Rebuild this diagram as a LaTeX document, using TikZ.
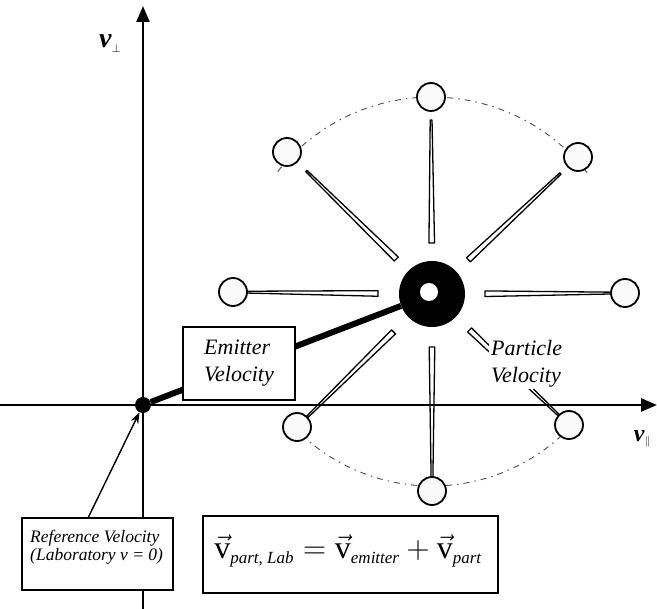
\RequirePackage{fix-cm}
\documentclass[tikz,border=0pt]{standalone}
\usepackage{amsmath}
\usepackage{fontspec}
\setmainfont{Liberation Serif}
\usetikzlibrary{arrows.meta,calc}
\tikzset{
  axisline/.style={line width=2.6pt, -{Triangle[length=16pt,width=13pt]}},
  particle/.style={circle, draw, line width=1.8pt, minimum size=28pt, inner sep=0pt, fill=gray!4},
  boxlabel/.style={draw, line width=1.2pt, fill=white, inner sep=0pt},
  guide/.style={gray!60!black, line width=0.9pt, dash pattern=on 6pt off 5pt on 1.5pt off 5pt},
  spokestyle/.style={fill=white, draw=black, line width=1.3pt, line join=round},
  biglabel/.style={font=\fontsize{22}{27}\selectfont\itshape, align=left, inner sep=2pt},
}
\newcommand\spk[3]{%
  \path ($(#1)!#2pt!(E)$) coordinate (sa) ($(E)!#3pt!(#1)$) coordinate (sb);
  \filldraw[spokestyle] ($(sa)!0.9pt!90:(sb)$) -- ($(sb)!2.8pt!-90:(sa)$) -- ($(sb)!2.8pt!90:(sa)$) -- ($(sa)!0.9pt!-90:(sb)$) -- cycle;}
\begin{document}
\begin{tikzpicture}[x=1pt,y=-1pt]
\useasboundingbox (0,0) rectangle (657,609);
% particle positions
\coordinate (cT)  at (431,97);
\coordinate (cUL) at (287,152);
\coordinate (cUR) at (578,157);
\coordinate (cL)  at (233,292);
\coordinate (cR)  at (625,293);
\coordinate (cLL) at (297,427);
\coordinate (cB)  at (432,491);
\coordinate (cLR) at (569,425);
% emitter
\node[circle, fill=black, minimum size=66pt, inner sep=0pt] (E) at (432,294) {};
\fill[white] (429,292) circle (9);
% guide arcs
\draw[guide] plot[domain=38:142, samples=60, variable=\t] ({432+197*cos(\t)}, {294-197*sin(\t)});
\draw[guide] plot[domain=222:318, samples=60, variable=\t] ({432+192*cos(\t)}, {294-192*sin(\t)});
% spokes
\spk{cT}{23}{51}
\spk{cUL}{27}{50}
\spk{cUR}{24}{50}
\spk{cL}{14}{54}
\spk{cR}{14}{53}
\spk{cLL}{14}{54}
\spk{cB}{14}{53}
\spk{cLR}{14}{52}
% axes
\coordinate (ybot) at (143,609);
\coordinate (ytop) at (143,6);
\coordinate (xl) at (0,405);
\coordinate (xr) at (657,405);
\draw[axisline] (ybot) -- (ytop);
\draw[axisline] (xl) -- (xr);
% particle velocity label
\node[biglabel, fill=white, anchor=north west] (pv) at (489,338) {Particle\\Velocity};
% particles
\foreach \p in {T,UL,UR,L,R,LL,B,LR} \node[particle] (P\p) at (c\p) {};
% origin and emitter velocity
\node[circle, fill=black, minimum size=16pt, inner sep=0pt] (O) at (143,405) {};
\draw[line width=6pt] (O) -- (E);
% boxes
\node[boxlabel, minimum width=112pt, minimum height=73pt, biglabel] (ev) at (239,363.5) {Emitter\\Velocity};
\node[boxlabel, minimum width=151pt, minimum height=72pt] (R) at (97.5,554) {};
\node[anchor=north west, align=left, inner sep=0pt, font=\fontsize{17.5}{18}\selectfont\itshape] (Rt) at (30,530) {Reference Velocity\\(Laboratory v = 0)};
\coordinate (ra) at (88,518);
\draw[line width=1.4pt, -{Stealth[length=11pt,width=8pt]}] (ra) -- (O);
\node[boxlabel, minimum width=295pt, minimum height=77pt] (eqbox) at (350.5,554.5) {};
\node (eqn) at (348,551) {\fontsize{32}{34}\selectfont$\vec{\text{v}}_{\text{\fontsize{17}{17}\selectfont\itshape part, Lab}} = \vec{\text{v}}_{\text{\fontsize{17}{17}\selectfont\itshape emitter}} + \vec{\text{v}}_{\text{\fontsize{17}{17}\selectfont\itshape part}}$};
% axis labels
\node (vperp) at (110,44) {\fontsize{28}{28}\selectfont\bfseries\itshape v\raisebox{-5pt}{\fontsize{12}{12}\selectfont$\perp$}};
\node (vpar) at (642,439) {\fontsize{24}{24}\selectfont\bfseries\itshape v\raisebox{-3pt}{\fontsize{11}{11}\selectfont$\parallel$}};
\end{tikzpicture}
\end{document}
